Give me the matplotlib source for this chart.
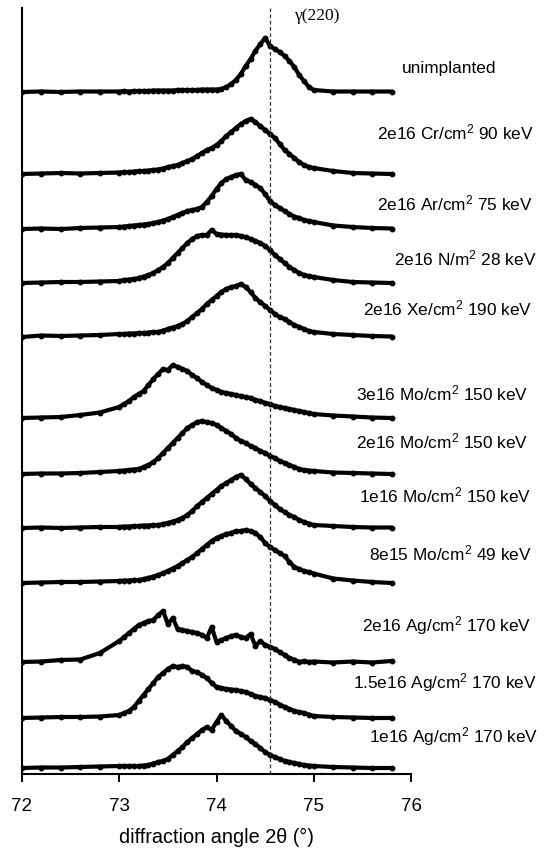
import numpy as np
import matplotlib
matplotlib.use("Agg")
import matplotlib.pyplot as plt

plt.rcParams['font.family'] = ['Liberation Sans', 'DejaVu Sans']
plt.rcParams['mathtext.fontset'] = 'custom'
plt.rcParams['mathtext.rm'] = 'Liberation Sans'
plt.rcParams['mathtext.it'] = 'Liberation Sans:italic'

# 2theta grid (deg)
angle = np.concatenate([[72.0, 72.2, 72.4, 72.6, 72.8],
                        np.round(np.arange(73.0, 75.001, 0.05), 2),
                        [75.2, 75.4, 75.6, 75.8]])

labels = ['unimplanted',
          '2e16 Cr/cm$^2$ 90 keV',
          '2e16 Ar/cm$^2$ 75 keV',
          '2e16 N/m$^2$ 28 keV',
          '2e16 Xe/cm$^2$ 190 keV',
          '3e16 Mo/cm$^2$ 150 keV',
          '2e16 Mo/cm$^2$ 150 keV',
          '1e16 Mo/cm$^2$ 150 keV',
          '8e15 Mo/cm$^2$ 49 keV',
          '2e16 Ag/cm$^2$ 170 keV',
          '1.5e16 Ag/cm$^2$ 170 keV',
          '1e16 Ag/cm$^2$ 170 keV']

# vertical offset of each pattern (arb. units)
offsets = [682, 600, 545, 491, 437, 356, 300, 246, 191, 112, 56, 6]

unimplanted = [0, 0.5, 0, 0.5, 0.5,
               0.5, 1, 0.5, 1, 1, 1, 1, 1.5, 1.5, 1.5, 1.5, 1.5, 2, 2, 2, 2, 2, 2.5, 2.5, 2.5,
               2.5, 3, 5, 8, 12, 18, 26, 33, 41, 48, 54, 46, 43, 40, 36, 31, 25, 17, 11, 5, 2,
               0.5, 0.5, 0.5, 0.5]
cr_90 = [0, 0.5, 1, 0.5, 1,
         1.5, 2, 2, 2.5, 3, 3, 3.5, 4, 4.5, 5.5, 7, 8, 9, 11, 13, 15, 18, 21, 24, 26,
         29, 33, 38, 42, 46, 50, 53, 55, 52, 48, 44, 40, 36, 30, 24, 20, 16, 12, 9, 7, 6,
         3, 1, 0.5, 0]
ar_75 = [0, 0.5, 0, 1, 1.5,
         2, 2.5, 3, 3.5, 4, 4.5, 5, 6, 7, 8.5, 10, 12, 14, 16, 18, 19, 20, 22, 27, 33,
         40, 46, 50, 52, 54, 55, 49, 47, 44, 41, 35, 28, 24, 21, 18, 15, 12.5, 11, 9, 8, 7,
         3.5, 2, 1, 0.5]
n_28 = [0, 0.5, 1, 1, 1.5,
        2, 3, 3.5, 4, 5, 6.5, 8, 10, 13, 16, 20, 25, 30, 35, 40, 44, 47, 48, 48, 53,
        49, 48.5, 48, 48, 48, 47, 46, 44, 42, 40, 37, 33, 28, 24, 20, 16, 13, 10, 8, 7, 6,
        3, 1, 0.5, 0]
xe_190 = [0, 1.5, 1, 1.5, 2,
          3, 3, 3.5, 3.5, 4, 4, 4.5, 5, 5, 6.5, 8, 9.5, 11, 13, 16, 20, 24, 28, 33, 37,
          41, 45, 48, 50, 51, 53, 50, 45, 39, 35, 31, 27, 23, 20, 18, 15, 12, 10, 8, 6, 5,
          3, 2, 1, 0.5]
mo_3e16 = [0, 0.5, 1, 3, 5.5,
           11, 14, 17, 21, 24, 27, 33, 39, 44, 49, 48, 53, 51, 49, 47, 43, 40, 36, 33, 30,
           28, 26, 25, 24, 23, 22, 21, 20, 18, 17, 15, 14, 12, 11, 10, 9, 8, 7, 6, 5, 4,
           2.5, 1.5, 0.5, 0]
mo_2e16 = [0, 0.5, 0.5, 1, 2,
           3, 3.5, 4, 4.5, 5, 7, 9, 12, 16, 21, 26, 31, 36, 41, 46, 49, 52, 53, 52, 51,
           49, 46, 43, 40, 36, 33, 31, 28, 26, 23, 21, 18, 16, 13, 11, 9, 7, 5, 4, 3.5, 3,
           1.5, 1, 0.5, 0]
mo_1e16 = [0, 0.5, 0, 0.5, 1,
           1, 1.5, 1.5, 2, 2, 2.5, 2.5, 3, 3, 4, 5, 6.5, 8, 10, 13, 17, 22, 26, 30, 34,
           38, 42, 45, 48, 51, 53, 49, 44, 40, 36, 32, 27, 23, 19, 16, 13, 11, 8, 6, 4.5, 3,
           2, 1, 0.5, 0.5]
mo_8e15 = [0, 0.5, 1, 1, 1.5,
           2, 2.5, 2.5, 3, 3, 4, 5, 6.5, 8, 10, 12, 14.5, 17, 20, 23, 26, 30, 34, 38, 42,
           45, 47, 49, 50, 52, 52, 53, 52, 50, 46, 40, 36, 33, 30, 27, 21, 16, 14, 12, 11, 9.5,
           4.5, 2.5, 1, 0]
ag_2e16 = [0, 0.5, 2, 2.5, 9,
           21, 25, 29, 33, 37, 39, 41, 42, 47, 51, 38, 44, 33, 32, 31, 30, 29, 27, 24, 35,
           20, 22, 24, 26, 27, 25, 24, 28, 16, 21, 17, 15, 13, 10, 7, 4, 2.5, 0, 1, 0, 0.5,
           -0.5, 0.5, -0.5, 1]
ag_15e16 = [0, 0.5, 1, 1, 1.5,
            3, 5, 7, 11, 17, 23, 29, 35, 41, 45, 49, 52, 51, 52, 51, 47, 46, 43, 40, 35,
            31, 30, 29, 28.5, 28, 27, 26, 24, 22, 21, 20, 18, 16, 13.5, 11, 9, 7, 6, 5, 3.5, 2,
            1, 0.5, 0, 0]
ag_1e16 = [0, 0.5, 0.5, 1, 1.5,
           2, 2, 2, 2, 2, 2.5, 3, 4.5, 6, 7, 9, 13, 17, 21, 26, 30, 34, 38, 41, 38,
           46, 53, 47, 42, 37, 34, 31, 27, 24, 20, 16, 13, 11, 9, 7, 6, 5, 4, 3, 2.5, 2,
           1, 0.5, 0, 0]

patterns = [unimplanted, cr_90, ar_75, n_28, xe_190, mo_3e16, mo_2e16,
            mo_1e16, mo_8e15, ag_2e16, ag_15e16, ag_1e16]

# label positions in figure pixels (x left, y center from top)
label_px = [(402, 69), (377, 132), (377, 203), (394, 258), (363, 308), (356, 393),
            (356, 441), (359, 495), (369, 553), (362, 626), (353, 683), (369, 737)]

W, H = 545, 848
fig = plt.figure(figsize=(W / 100, H / 100), dpi=100)
ax = fig.add_axes([22 / W, 1 - 774 / H, (411 - 22) / W, (774 - 8) / H])

for off, y in zip(offsets, patterns):
    ax.plot(angle, np.array(y) + off, color='black', lw=3.0, marker='o', ms=3.2,
            solid_joinstyle='round', solid_capstyle='round')

ax.axvline(74.55, color='#333333', lw=0.9, ls=(0, (3, 2)))

for (px, py), lab in zip(label_px, labels):
    fig.text(px / W, 1 - py / H, lab, fontsize=12.4, va='center', ha='left')

fig.text(295 / W, 1 - 16 / H, 'γ(220)', fontsize=12.5, family='Liberation Serif',
         va='center', ha='left')

ax.set_xlim(72, 76)
ax.set_ylim(0, 766)
ax.set_xticks([72, 73, 74, 75, 76])
ax.set_yticks([])
ax.tick_params(axis='x', direction='out', length=5.5, width=1.4, labelsize=13.5, pad=12)
ax.spines['top'].set_visible(False)
ax.spines['right'].set_visible(False)
ax.spines['left'].set_linewidth(1.5)
ax.spines['bottom'].set_linewidth(1.5)
ax.set_xlabel('diffraction angle 2θ (°)', fontsize=14.3, labelpad=9)

fig.savefig('out.png', dpi=100)
